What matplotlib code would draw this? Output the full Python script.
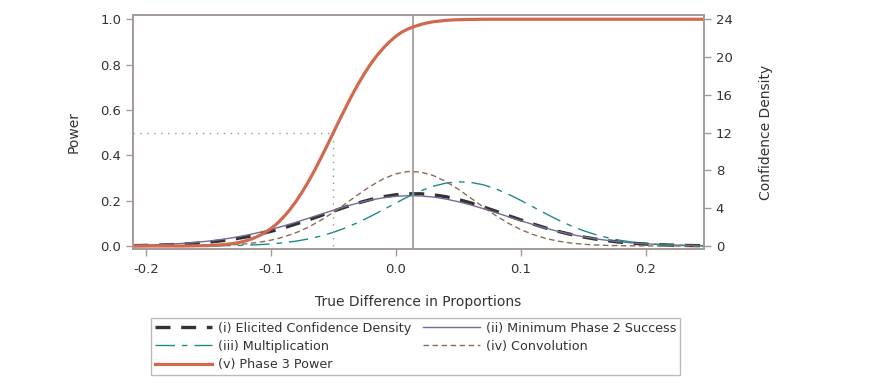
import matplotlib
matplotlib.use("Agg")
import matplotlib.pyplot as plt

# grille des differences vraies
diff = [-0.21, -0.20, -0.19, -0.18, -0.17, -0.16, -0.15, -0.14, -0.13, -0.12,
        -0.11, -0.10, -0.09, -0.08, -0.07, -0.06, -0.05, -0.04, -0.03, -0.02,
        -0.01, 0.00, 0.01, 0.02, 0.03, 0.04, 0.05, 0.06, 0.07, 0.08,
        0.09, 0.10, 0.11, 0.12, 0.13, 0.14, 0.15, 0.16, 0.17, 0.18,
        0.19, 0.20, 0.21, 0.22, 0.23, 0.24, 0.25]

# (v) puissance phase 3 (axe gauche), grille plus fine dans la montee
power_diff = [-0.21, -0.20, -0.19, -0.18, -0.17, -0.16, -0.15, -0.14, -0.13,
              -0.125, -0.12, -0.115, -0.11, -0.105, -0.10, -0.095, -0.09, -0.085,
              -0.08, -0.075, -0.07, -0.065, -0.06, -0.055, -0.05, -0.045, -0.04,
              -0.035, -0.03, -0.025, -0.02, -0.015, -0.01, -0.005, 0.00, 0.005,
              0.01, 0.015, 0.02, 0.025, 0.03, 0.035, 0.04, 0.045, 0.05,
              0.06, 0.07, 0.08, 0.10, 0.15, 0.20, 0.25]
power = [0.000, 0.000, 0.000, 0.000, 0.000, 0.001, 0.002, 0.005, 0.011,
         0.016, 0.023, 0.032, 0.044, 0.058, 0.077, 0.099, 0.127, 0.159,
         0.196, 0.238, 0.284, 0.334, 0.388, 0.443, 0.500, 0.557, 0.612,
         0.666, 0.716, 0.762, 0.804, 0.841, 0.873, 0.901, 0.925, 0.944,
         0.958, 0.968, 0.977, 0.984, 0.989, 0.992, 0.995, 0.997, 0.998,
         0.999, 1.000, 1.000, 1.000, 1.000, 1.000, 1.000]

# densites de confiance (axe droit)
elicited = [0.042, 0.064, 0.096, 0.142, 0.204, 0.289, 0.401, 0.546, 0.729, 0.955,
            1.228, 1.548, 1.914, 2.321, 2.759, 3.219, 3.684, 4.138, 4.559, 4.925,
            5.219, 5.421, 5.527, 5.527, 5.421, 5.219, 4.925, 4.559, 4.138, 3.684,
            3.219, 2.759, 2.321, 1.914, 1.548, 1.228, 0.955, 0.729, 0.546, 0.401,
            0.289, 0.204, 0.142, 0.096, 0.064, 0.042, 0.027]

min_phase2 = [0.067, 0.098, 0.142, 0.201, 0.280, 0.384, 0.517, 0.683, 0.888, 1.133,
              1.419, 1.748, 2.114, 2.512, 2.931, 3.362, 3.786, 4.193, 4.556, 4.866,
              5.106, 5.262, 5.328, 5.300, 5.179, 4.971, 4.688, 4.343, 3.953, 3.534,
              3.102, 2.678, 2.269, 1.889, 1.546, 1.242, 0.981, 0.761, 0.580, 0.434,
              0.319, 0.230, 0.163, 0.114, 0.078, 0.053, 0.035]

multiplication = [0.000, 0.001, 0.001, 0.002, 0.004, 0.009, 0.016, 0.028, 0.049, 0.084,
                  0.137, 0.219, 0.339, 0.510, 0.745, 1.054, 1.449, 1.933, 2.504, 3.148,
                  3.842, 4.549, 5.233, 5.841, 6.327, 6.656, 6.796, 6.735, 6.480, 6.052,
                  5.487, 4.828, 4.124, 3.420, 2.754, 2.151, 1.631, 1.201, 0.859, 0.596,
                  0.401, 0.262, 0.166, 0.103, 0.061, 0.036, 0.020]

convolution = [0.000, 0.001, 0.002, 0.005, 0.010, 0.020, 0.039, 0.073, 0.132, 0.229,
               0.383, 0.615, 0.946, 1.401, 1.992, 2.722, 3.571, 4.503, 5.459, 6.352,
               7.110, 7.638, 7.886, 7.823, 7.456, 6.828, 6.008, 5.079, 4.125, 3.219,
               2.413, 1.738, 1.203, 0.800, 0.511, 0.314, 0.185, 0.105, 0.057, 0.030,
               0.015, 0.007, 0.003, 0.001, 0.000, 0.000, 0.000]

ref_diff = 0.014     # ligne verticale
target_diff = -0.05  # puissance 0.5

xticks = [-0.2, -0.1, 0.0, 0.1, 0.2]
xtick_labels = ["-0.2", "-0.1", "0.0", "0.1", "0.2"]
yticks = [0.0, 0.2, 0.4, 0.6, 0.8, 1.0]
y2ticks = [0, 4, 8, 12, 16, 20, 24]

axe_col = "#a49a98"
txt_col = "#333333"
plt.rcParams['font.family'] = ['DejaVu Sans']

fig = plt.figure(figsize=(8.75, 3.83), dpi=100)
ax = fig.add_axes([0.152, 0.35, 0.8046 - 0.152, 0.961 - 0.35])
ax2 = ax.twinx()

ylo, yhi = -0.013, 1.019
ax.set_xlim(-0.2104, 0.2467)
ax.set_ylim(ylo, yhi)
ax2.set_ylim(ylo * 24, yhi * 24)

# lignes de reference
ax.axvline(ref_diff, color="#9c9494", lw=1.2, zorder=1)
ax.plot([ax.get_xlim()[0], target_diff], [0.5, 0.5], color="#9c9494", lw=1,
        linestyle=(0, (1, 4)), zorder=1)
ax.plot([target_diff, target_diff], [0, 0.5], color="#9c9494", lw=1,
        linestyle=(0, (1, 4)), zorder=1)

l1, = ax2.plot(diff, elicited, color="#333333", lw=2.4, dashes=(4.5, 3.2),
               label="(i) Elicited Confidence Density")
l2, = ax2.plot(diff, min_phase2, color="#6e6e98", lw=1,
               label="(ii) Minimum Phase 2 Success")
l3, = ax2.plot(diff, multiplication, color="#1b8b8b", lw=1,
               dashes=(14, 5, 4, 5), label="(iii) Multiplication")
l4, = ax2.plot(diff, convolution, color="#8f6a55", lw=1, dashes=(4, 2.5),
               label="(iv) Convolution")
l5, = ax.plot(power_diff, power, color="#d0694f", lw=2.3, label="(v) Phase 3 Power")
ax.set_zorder(ax2.get_zorder() + 1)
ax.patch.set_visible(False)

ax.set_xticks(xticks)
ax.set_xticklabels(xtick_labels)
ax.set_yticks(yticks)
ax.set_yticklabels(["%.1f" % v for v in yticks])
ax2.set_yticks(y2ticks)

for a in (ax, ax2):
    for s in a.spines.values():
        s.set_color(axe_col)
        s.set_linewidth(1.2)
    a.tick_params(colors=axe_col, labelcolor=txt_col, labelsize=9.5,
                  length=5, width=1, direction="out")
ax.tick_params(axis="x", pad=5)

ax.set_xlabel("True Difference in Proportions", fontsize=10, color=txt_col, labelpad=14)
ax.set_ylabel("Power", fontsize=10, color=txt_col, labelpad=14)
ax2.set_ylabel("Confidence Density", fontsize=10, color=txt_col, labelpad=19)

leg = fig.legend(handles=[l1, l3, l5, l2, l4], ncol=2, loc="upper left",
                 bbox_to_anchor=(151 / 875, 1 - 318 / 383), fontsize=9.2,
                 frameon=True, fancybox=False, borderpad=0.3, labelspacing=0.4,
                 handlelength=4.5, handletextpad=0.45, columnspacing=0.9,
                 borderaxespad=0)
leg.get_frame().set_edgecolor("#b0a8a8")
leg.get_frame().set_linewidth(1)
for t in leg.get_texts():
    t.set_color(txt_col)

plt.savefig("out.png", dpi=100)
